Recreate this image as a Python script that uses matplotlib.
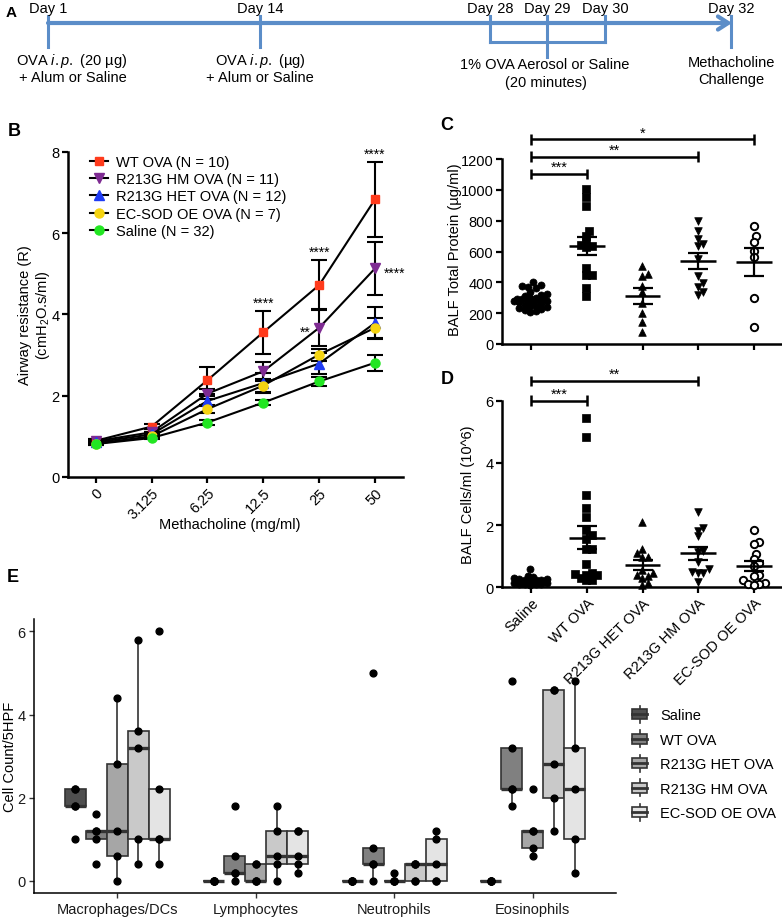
import numpy as np
import matplotlib
matplotlib.use('Agg')
import matplotlib.pyplot as plt
from matplotlib.patches import Patch, Rectangle
from matplotlib.lines import Line2D
from matplotlib.legend_handler import HandlerBase

plt.rcParams['font.family'] = ['Liberation Sans', 'DejaVu Sans']
plt.rcParams['mathtext.fontset'] = 'custom'
plt.rcParams['mathtext.rm'] = 'Liberation Sans'
plt.rcParams['mathtext.it'] = 'Liberation Sans:italic'
plt.rcParams['font.size'] = 10.5

W, H = 782, 920

# ---------------- data ----------------
# Panel A: timeline
timeline_days = ['Day 1', 'Day 14', 'Day 28', 'Day 29', 'Day 30', 'Day 32']

# Panel B: airway resistance (mean, SEM) per methacholine dose
doses = ['0', '3.125', '6.25', '12.5', '25', '50']
b_labels = ['WT OVA (N = 10)', 'R213G HM OVA (N = 11)', 'R213G HET OVA (N = 12)',
            'EC-SOD OE OVA (N = 7)', 'Saline (N = 32)']
wt_mean = [0.89, 1.24, 2.38, 3.56, 4.72, 6.83]
wt_sem = [0.05, 0.07, 0.33, 0.53, 0.61, 0.92]
hm_mean = [0.88, 1.10, 2.05, 2.60, 3.67, 5.13]
hm_sem = [0.05, 0.07, 0.12, 0.23, 0.45, 0.65]
het_mean = [0.85, 1.05, 1.87, 2.31, 2.79, 3.79]
het_sem = [0.04, 0.06, 0.12, 0.24, 0.26, 0.40]
oe_mean = [0.82, 1.00, 1.67, 2.25, 3.01, 3.67]
oe_sem = [0.04, 0.05, 0.10, 0.15, 0.15, 0.24]
sal_mean = [0.81, 0.96, 1.34, 1.83, 2.35, 2.81]
sal_sem = [0.03, 0.03, 0.05, 0.07, 0.11, 0.20]

# Panels C, D: BALF measurements
groups = ['Saline', 'WT OVA', 'R213G HET OVA', 'R213G HM OVA', 'EC-SOD OE OVA']
protein_saline = [400, 383, 379, 370, 364, 336, 325, 320, 310, 300, 298, 295, 292, 290, 288,
                  285, 282, 280, 276, 270, 262, 255, 249, 245, 240, 232, 225, 218, 212, 206]
protein_wt = [1006, 952, 898, 732, 700, 664, 643, 628, 638, 491, 448, 448, 362, 314]
protein_het = [504, 455, 440, 379, 336, 264, 201, 141, 76]
protein_hm = [801, 732, 682, 649, 638, 552, 444, 368, 396, 320, 340]
protein_oe = [768, 699, 664, 606, 567, 297, 108]

cells_saline = [0.58, 0.35, 0.32, 0.30, 0.28, 0.27, 0.25, 0.24, 0.22, 0.21, 0.20, 0.19,
                0.18, 0.17, 0.16, 0.15, 0.14, 0.13, 0.12, 0.11, 0.10, 0.10, 0.08]
cells_wt = [5.43, 4.82, 2.97, 2.54, 2.25, 1.85, 1.69, 1.56, 1.23, 1.23, 0.75, 0.45,
            0.42, 0.40, 0.38, 0.30, 0.25, 0.22]
cells_het = [2.09, 1.23, 1.10, 0.96, 0.96, 0.55, 0.45, 0.38, 0.35, 0.30, 0.15, 0.08]
cells_hm = [2.43, 1.82, 1.90, 1.64, 1.15, 1.17, 0.82, 0.60, 0.49, 0.47, 0.45, 0.16]
cells_oe = [1.85, 1.47, 1.38, 1.07, 0.90, 0.78, 0.69, 0.40, 0.35, 0.25, 0.15, 0.12, 0.10, 0.08]

# Panel E: cell counts per 5 HPF (Macrophages/DCs, Lymphocytes, Neutrophils, Eosinophils)
cell_types = ['Macrophages/DCs', 'Lymphocytes', 'Neutrophils', 'Eosinophils']
e_saline = [[1.0, 1.8, 1.8, 2.2, 2.2], [0, 0, 0, 0, 0], [0, 0, 0, 0, 0], [0, 0, 0, 0, 0]]
e_wt = [[0.4, 1.0, 1.2, 1.2, 1.6], [0, 0.2, 0.2, 0.6, 1.8], [0, 0.4, 0.4, 0.8, 5.0],
        [1.8, 2.2, 2.2, 3.2, 4.8]]
e_het = [[0.0, 0.6, 1.2, 2.8, 4.4], [0, 0, 0, 0.4, 0.4], [0, 0, 0, 0, 0.2],
         [0.6, 0.8, 1.2, 1.2, 2.2]]
e_hm = [[0.4, 1.0, 3.2, 3.6, 5.8], [0, 0.4, 0.6, 1.2, 1.8], [0, 0, 0.4, 0.4, 0.4],
        [1.2, 2.0, 2.8, 4.6, 4.6]]
e_oe = [[0.4, 1.0, 1.0, 2.2, 6.0], [0.2, 0.4, 0.6, 1.2, 1.2], [0, 0, 0.4, 1.0, 1.2],
        [0.2, 1.0, 2.2, 3.2, 4.8]]


def rect(l, t, r, b):
    return [l / W, 1 - b / H, (r - l) / W, (b - t) / H]


def swarm_x(ax, center, values, d_px, max_px):
    vals = np.asarray(values, float)
    tr = ax.transData
    ypx = tr.transform(np.column_stack([np.full(len(vals), center), vals]))[:, 1]
    px_per_x = tr.transform([[1, 0]])[0, 0] - tr.transform([[0, 0]])[0, 0]
    cand = np.arange(-max_px, max_px + 0.01, d_px / 2)
    cand = cand[np.argsort(np.abs(cand), kind='stable')]
    px_list, py_list = [], []
    off = np.zeros(len(vals))
    for i in np.argsort(ypx):
        best, best_d = 0.0, -1.0
        for c in cand:
            if px_list:
                dist = np.min(np.hypot(np.array(px_list) - c, np.array(py_list) - ypx[i]))
            else:
                dist = np.inf
            if dist >= d_px:
                best = c
                break
            if dist > best_d:
                best_d, best = dist, c
        px_list.append(best)
        py_list.append(ypx[i])
        off[i] = best
    return center + off / px_per_x


def style_prism(ax):
    for s in ['top', 'right']:
        ax.spines[s].set_visible(False)
    for s in ['left', 'bottom']:
        ax.spines[s].set_linewidth(1.8)
    ax.tick_params(direction='out', length=4, width=1.6, labelsize=10.5, pad=2)


def bracket(ax, x1, x2, y, label, cap):
    kw = dict(color='black', lw=1.8, clip_on=False, solid_capstyle='butt')
    ax.plot([x1, x2], [y, y], **kw)
    ax.plot([x1, x1], [y - cap, y + cap], **kw)
    ax.plot([x2, x2], [y - cap, y + cap], **kw)
    ax.annotate(label, ((x1 + x2) / 2, y), xytext=(0, 0), textcoords='offset points',
                ha='center', va='bottom', fontsize=10.5, annotation_clip=False)


fig = plt.figure(figsize=(W / 100, H / 100), dpi=100)
fig.patch.set_facecolor('white')

# ---------------- Panel A ----------------
axA = fig.add_axes(rect(0, 0, W, 110))
axA.set_xlim(0, W)
axA.set_ylim(110, 0)
axA.axis('off')
blue = '#5b8dc8'
day_x = [48, 260, 490, 547, 605, 731]
tick_bottom = [48, 48, 43, 58, 43, 48]
axA.annotate('', xy=(day_x[-1] + 1, 24), xytext=(day_x[0], 24),
             arrowprops=dict(arrowstyle='->,head_length=0.7,head_width=0.45', lw=3.0,
                             color=blue, shrinkA=0, shrinkB=0))
for x, yb, lab in zip(day_x, tick_bottom, timeline_days):
    axA.plot([x, x], [17, yb], color=blue, lw=2.2)
    axA.text(x, 9, lab, ha='center', va='center', fontsize=10.5)
axA.plot([day_x[2], day_x[4]], [43, 43], color=blue, lw=2.2)
axA.text(72, 61, '$\\mathrm{OVA}\\ \\mathit{i.p.}\\ \\mathrm{(20\\ µg)}$', ha='center',
         va='center')
axA.text(73, 78, '+ Alum or Saline', ha='center', va='center')
axA.text(260, 61, '$\\mathrm{OVA}\\ \\mathit{i.p.}\\ \\mathrm{(µg)}$', ha='center', va='center')
axA.text(260, 78, '+ Alum or Saline', ha='center', va='center')
axA.text(545, 65, '1% OVA Aerosol or Saline', ha='center', va='center')
axA.text(546, 83, '(20 minutes)', ha='center', va='center')
axA.text(731, 63, 'Methacholine', ha='center', va='center')
axA.text(731, 80, 'Challenge', ha='center', va='center')
fig.text(6 / W, 1 - 13 / H, 'A', fontsize=11, fontweight='bold', ha='left', va='center')

# ---------------- Panel B ----------------
axB = fig.add_axes(rect(67.7, 152.7, 403, 478))
style_prism(axB)
xi = np.arange(len(doses))
b_series = [
    (wt_mean, wt_sem, 's', '#ff3b1c', 6.0),
    (hm_mean, hm_sem, 'v', '#7e2b92', 7.0),
    (het_mean, het_sem, '^', '#1f3cf5', 7.0),
    (oe_mean, oe_sem, 'o', '#f5d412', 6.5),
    (sal_mean, sal_sem, 'o', '#22e622', 6.5),
]
handles = []
for (m, s, mk, c, ms), lab in zip(b_series, b_labels):
    axB.errorbar(xi, m, yerr=s, color='black', lw=1.5, elinewidth=1.5, capsize=5.5,
                 capthick=1.5, marker=mk, mfc=c, mec=c, ms=ms, zorder=3)
    handles.append(Line2D([0], [0], color='black', lw=1.5, marker=mk, mfc=c, mec=c, ms=ms,
                          label=lab))
axB.set_xlim(-0.5, 5.5)
axB.set_ylim(0, 8)
axB.set_yticks([0, 2, 4, 6, 8])
axB.set_xticks(xi)
axB.set_xticklabels(doses, rotation=45, ha='right', rotation_mode='anchor')
axB.legend(handles=handles, loc='upper left', bbox_to_anchor=(90 / W, 1 - 156 / H),
           bbox_transform=fig.transFigure, frameon=False, borderpad=0, borderaxespad=0,
           handlelength=1.2, handletextpad=0.55, labelspacing=0.22, fontsize=10.5)
star_kw = dict(textcoords='offset points', fontsize=10, annotation_clip=False)
for k in [3, 4, 5]:
    axB.annotate('****', (xi[k], wt_mean[k] + wt_sem[k]), xytext=(0, 1), ha='center',
                 va='bottom', **star_kw)
axB.annotate('**', (xi[4], hm_mean[4]), xytext=(-6, -3), ha='right', va='center', **star_kw)
axB.annotate('****', (xi[5], hm_mean[5]), xytext=(6, -3), ha='left', va='center', **star_kw)
fig.text(35 / W, 1 - 315 / H, 'Airway resistance (R)\n(cmH$_2$O.s/ml)', rotation=90,
         ha='center', va='center', multialignment='center', fontsize=10.5, linespacing=1.15)
fig.text(230 / W, 1 - 525 / H, 'Methacholine (mg/ml)', ha='center', va='center', fontsize=10.5)
fig.text(8 / W, 1 - 132 / H, 'B', fontsize=13, fontweight='bold', ha='left', va='center')

# ---------------- Panels C and D ----------------
gx = np.arange(len(groups))
markers = [('o', 'black', 26), ('s', 'black', 26), ('^', 'black', 30), ('v', 'black', 30),
           ('o', 'white', 28)]


def dot_panel(ax, datasets, d_px, max_px):
    for i, vals in enumerate(datasets):
        mk, fc, sz = markers[i]
        xs = swarm_x(ax, gx[i], vals, d_px, max_px)
        ax.scatter(xs, vals, marker=mk, s=sz, facecolor=fc, edgecolor='black',
                   linewidths=1.4 if fc == 'white' else 0.5, zorder=3, clip_on=False)
        v = np.asarray(vals, float)
        mean = v.mean()
        sem = v.std(ddof=1) / np.sqrt(len(v))
        ax.hlines(mean, gx[i] - 0.32, gx[i] + 0.32, color='black', lw=1.8, zorder=4)
        ax.vlines(gx[i], mean - sem, mean + sem, color='black', lw=1.6, zorder=4)
        ax.hlines([mean - sem, mean + sem], gx[i] - 0.18, gx[i] + 0.18, color='black',
                  lw=1.6, zorder=4)


axC = fig.add_axes(rect(501.7, 160, 782, 345))
style_prism(axC)
axC.set_xlim(-0.525, 4.5)
axC.set_ylim(0, 1200)
axC.set_yticks(np.arange(0, 1201, 200))
axC.set_xticks(gx)
axC.set_xticklabels([])
dot_panel(axC, [protein_saline, protein_wt, protein_het, protein_hm, protein_oe], 5.5, 17)
bracket(axC, gx[0], gx[1], 1104, '***', 34)
bracket(axC, gx[0], gx[3], 1216, '**', 34)
bracket(axC, gx[0], gx[4], 1327, '*', 34)
fig.text(455 / W, 1 - 250 / H, 'BALF Total Protein (µg/ml)', rotation=90, ha='center',
         va='center', fontsize=10.5)
fig.text(447 / W, 1 - 125 / H, 'C', fontsize=13, fontweight='bold', ha='center', va='center')

axD = fig.add_axes(rect(501.7, 401.7, 782, 588.3))
style_prism(axD)
axD.set_xlim(-0.525, 4.5)
axD.set_ylim(0, 6)
axD.set_yticks([0, 2, 4, 6])
axD.set_xticks(gx)
axD.set_xticklabels(groups, rotation=45, ha='right', rotation_mode='anchor')
dot_panel(axD, [cells_saline, cells_wt, cells_het, cells_hm, cells_oe], 5.5, 17)
bracket(axD, gx[0], gx[1], 6.0, '***', 0.17)
bracket(axD, gx[0], gx[3], 6.64, '**', 0.17)
fig.text(468 / W, 1 - 495 / H, 'BALF Cells/ml (10^6)', rotation=90, ha='center',
         va='center', fontsize=10.5)
fig.text(447 / W, 1 - 380 / H, 'D', fontsize=13, fontweight='bold', ha='center', va='center')

# ---------------- Panel E ----------------
axE = fig.add_axes(rect(34.3, 620, 615.8, 894.3))
axE.patch.set_visible(False)
for s in ['top', 'right']:
    axE.spines[s].set_visible(False)
for s in ['left', 'bottom']:
    axE.spines[s].set_linewidth(1.1)
axE.tick_params(direction='out', length=3.5, width=1.0, color='#333333', labelsize=10.5,
                labelcolor='#1a1a1a', pad=3)
e_fills = ['#4f4f4f', '#808080', '#a6a6a6', '#c9c9c9', '#e4e4e4']
e_sets = [e_saline, e_wt, e_het, e_hm, e_oe]
edge = '#333333'
bw = 0.152
ct = np.arange(1, len(cell_types) + 1)
for gi, (vals, fc) in enumerate(zip(e_sets, e_fills)):
    pos = ct + (gi - 2) * bw
    axE.boxplot(vals, positions=pos, widths=bw, patch_artist=True, showfliers=False,
                showcaps=False, whis=1.5, manage_ticks=False,
                boxprops=dict(facecolor=fc, edgecolor=edge, lw=1.2),
                medianprops=dict(color=edge, lw=2.4),
                whiskerprops=dict(color=edge, lw=1.2))
    for p, v in zip(pos, vals):
        axE.scatter(np.full(len(v), p), v, s=24, color='black', zorder=4, clip_on=False)
axE.set_xlim(0.4, 4.6)
axE.set_ylim(-0.3, 6.3)
axE.set_yticks([0, 2, 4, 6])
axE.set_xticks(ct)
axE.set_xticklabels(cell_types)
fig.text(10 / W, 1 - 757 / H, 'Cell Count/5HPF', rotation=90, ha='center', va='center',
         fontsize=10.5)
fig.text(7 / W, 1 - 578 / H, 'E', fontsize=13, fontweight='bold', ha='left', va='center')


class BoxKey(HandlerBase):
    def create_artists(self, legend, orig_handle, xdescent, ydescent, width, height,
                       fontsize, trans):
        x0, y0 = -xdescent, -ydescent
        fc = orig_handle.get_facecolor()
        bh = height * 0.6
        by = y0 + (height - bh) / 2
        cx = x0 + width / 2
        whisk = Line2D([cx, cx], [y0, y0 + height], color=edge, lw=1.2, transform=trans)
        box = Rectangle((x0, by), width, bh, facecolor=fc, edgecolor=edge, lw=1.2,
                        transform=trans)
        med = Line2D([x0, x0 + width], [y0 + height / 2] * 2, color=edge, lw=2.0,
                     transform=trans)
        return [whisk, box, med]


e_handles = [Patch(facecolor=fc, edgecolor=edge, label=g) for g, fc in zip(groups, e_fills)]
axE.legend(handles=e_handles, handler_map={Patch: BoxKey()}, loc='upper left',
           bbox_to_anchor=(632 / W, 1 - 707 / H), bbox_transform=fig.transFigure,
           frameon=False, borderpad=0, borderaxespad=0, handlelength=1.05,
           handleheight=1.4, handletextpad=0.9, labelspacing=0.52, fontsize=10.5)

fig.savefig('out.png', dpi=100, facecolor='white')
plt.close(fig)
